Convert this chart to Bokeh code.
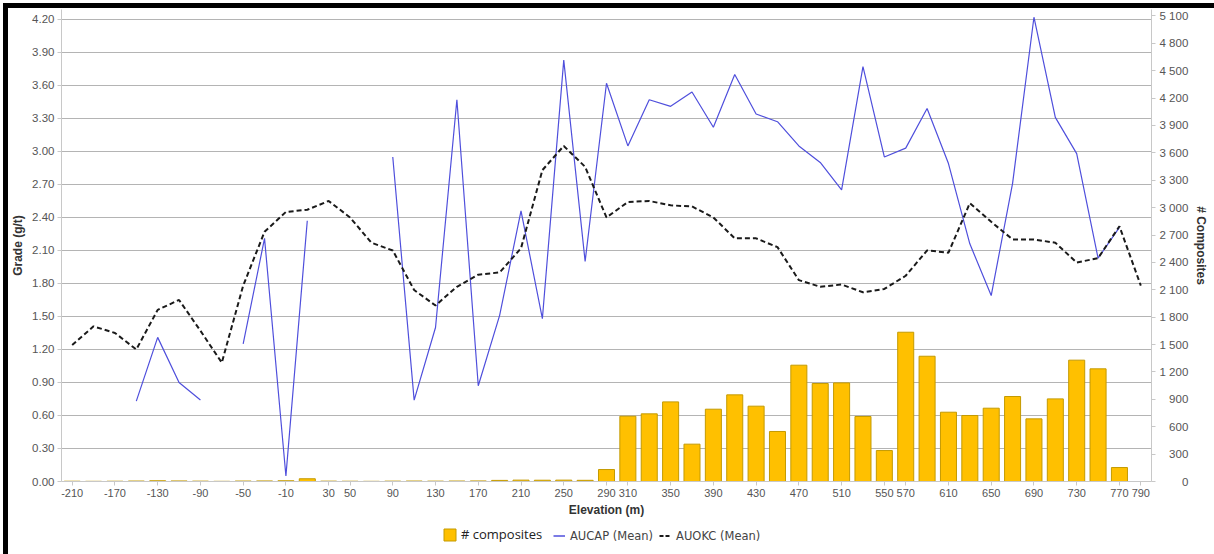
import numpy as np
from bokeh.plotting import figure
from bokeh.layouts import column
from bokeh.models import (Range1d, LinearAxis, FixedTicker, Legend, LegendItem,
                          ColumnDataSource, PrintfTickFormatter)
from bokeh.embed import file_html
from bokeh.resources import INLINE

nan = np.nan

elevation = [-210, -190, -170, -150, -130, -110, -90, -70, -50, -30, -10, 10, 30, 50, 70,
             90, 110, 130, 150, 170, 190, 210, 230, 250, 270, 290, 310, 330, 350, 370,
             390, 410, 430, 450, 470, 490, 510, 530, 550, 570, 590, 610, 630, 650, 670,
             690, 710, 730, 750, 770, 790]

composites = [3, 2, 3, 5, 8, 6, 4, 2, 5, 6, 8, 30, 4, 3, 2,
              4, 5, 4, 5, 6, 12, 15, 14, 15, 13, 131, 715, 741, 872, 409,
              792, 949, 825, 548, 1274, 1073, 1080, 712, 339, 1635, 1372, 759, 723, 803, 931,
              686, 905, 1329, 1234, 153, 0]

aucap_mean = [nan, nan, nan, 0.73, 1.31, 0.90, 0.74, nan, 1.25, 2.21, 0.05, 2.37, nan, nan, nan,
              2.95, 0.74, 1.40, 3.47, 0.87, 1.51, 2.46, 1.48, 3.83, 2.00, 3.62, 3.05, 3.47, 3.41, 3.54,
              3.22, 3.70, 3.34, 3.27, 3.05, 2.90, 2.65, 3.77, 2.95, 3.03, 3.39, 2.89, 2.16, 1.69, 2.71,
              4.22, 3.31, 2.98, 2.03, 2.31, nan]

auokc_mean = [1.24, 1.41, 1.35, 1.20, 1.56, 1.65, 1.37, 1.08, 1.78, 2.27, 2.45, 2.47, 2.55, 2.40, 2.17,
              2.10, 1.74, 1.60, 1.77, 1.88, 1.90, 2.12, 2.83, 3.05, 2.86, 2.40, 2.54, 2.55, 2.51, 2.50,
              2.40, 2.21, 2.21, 2.13, 1.83, 1.77, 1.79, 1.72, 1.75, 1.87, 2.10, 2.08, 2.53, 2.36, 2.20,
              2.20, 2.17, 1.99, 2.03, 2.32, 1.78]

x_tick_values = [-210, -170, -130, -90, -50, -10, 30, 50, 90, 130, 170, 210, 250, 290, 310,
                 350, 390, 430, 470, 510, 550, 570, 610, 650, 690, 730, 770, 790]
grade_ticks = [0.0, 0.3, 0.6, 0.9, 1.2, 1.5, 1.8, 2.1, 2.4, 2.7, 3.0, 3.3, 3.6, 3.9, 4.2]
count_ticks = [0, 300, 600, 900, 1200, 1500, 1800, 2100, 2400, 2700, 3000, 3300, 3600,
               3900, 4200, 4500, 4800, 5100]

BAR_FILL = "#FFC000"
BAR_LINE = "#C49A00"
CAP_COLOR = "#4F4FDC"
OKC_COLOR = "#1A1A1A"

src = ColumnDataSource(dict(elev=elevation, comp=composites, aucap=aucap_mean, auokc=auokc_mean))

p = figure(width=1206, height=518, output_backend="svg", toolbar_location=None,
           x_range=Range1d(-220, 800), y_range=Range1d(0, 4.29),
           min_border_left=53, min_border_right=63, min_border_top=1, min_border_bottom=45)
p.extra_y_ranges = {"comp": Range1d(0, 5170)}
p.outline_line_color = None
p.background_fill_color = "white"
p.border_fill_color = "white"

p.vbar(x="elev", top="comp", width=15, source=src, y_range_name="comp",
       fill_color=BAR_FILL, line_color=BAR_LINE, line_width=1)
p.line(x="elev", y="aucap", source=src, line_color=CAP_COLOR, line_width=1.2)
p.line(x="elev", y="auokc", source=src, line_color=OKC_COLOR, line_width=2, line_dash="5 3")

tick_font = "Liberation Sans"

# x axis
xa = p.xaxis[0]
xa.ticker = FixedTicker(ticks=x_tick_values)
xa.major_label_overrides = {v: str(v) for v in x_tick_values}
xa.axis_label = "Elevation (m)"
xa.axis_label_text_font = tick_font
xa.axis_label_text_font_style = "bold"
xa.axis_label_text_font_size = "12px"
xa.axis_label_text_color = "#333333"
xa.axis_label_standoff = 3
xa.major_label_text_font = tick_font
xa.major_label_text_font_size = "11px"
xa.major_label_text_color = "#555555"
xa.major_label_standoff = 3
xa.axis_line_color = "#C8C8C8"
xa.major_tick_line_color = "#C8C8C8"
xa.major_tick_in = 0
xa.major_tick_out = 4
xa.minor_tick_line_color = None

# left axis
ya = p.yaxis[0]
ya.ticker = FixedTicker(ticks=grade_ticks)
ya.formatter = PrintfTickFormatter(format="%.2f")
ya.axis_label = "Grade (g/t)"
ya.axis_label_text_font = tick_font
ya.axis_label_text_font_style = "bold"
ya.axis_label_text_font_size = "12px"
ya.axis_label_text_color = "#333333"
ya.axis_label_standoff = 4
ya.major_label_text_font = tick_font
ya.major_label_text_font_size = "11.5px"
ya.major_label_text_color = "#555555"
ya.major_label_standoff = 3
ya.axis_line_color = "#C8C8C8"
ya.major_tick_line_color = "#C8C8C8"
ya.major_tick_in = 0
ya.major_tick_out = 4
ya.minor_tick_line_color = None

# right axis
def fmt_count(v):
    s = f"{v:,}".replace(",", "\u00a0")
    if len(s) <= 3:
        s = "\u2007\u00a0" + "\u2007" * (3 - len(s)) + s
    return s

ra = LinearAxis(y_range_name="comp")
ra.ticker = FixedTicker(ticks=count_ticks)
ra.major_label_overrides = {v: fmt_count(v) for v in count_ticks}
ra.axis_label = "# Composites"
ra.axis_label_text_font = tick_font
ra.axis_label_text_font_style = "bold"
ra.axis_label_text_font_size = "12px"
ra.axis_label_text_color = "#333333"
ra.axis_label_standoff = 3
ra.major_label_text_font = tick_font
ra.major_label_text_font_size = "11.5px"
ra.major_label_text_color = "#555555"
ra.major_label_standoff = 4
ra.axis_line_color = "#C8C8C8"
ra.major_tick_line_color = "#C8C8C8"
ra.major_tick_in = 0
ra.major_tick_out = 4
ra.minor_tick_line_color = None
p.add_layout(ra, "right")

p.xgrid.grid_line_color = None
p.ygrid.grid_line_color = "#B4B4B4"
p.ygrid.grid_line_width = 1
p.ygrid.ticker = FixedTicker(ticks=grade_ticks)

# legend strip below the chart (its ranges keep the proxy glyphs out of view)
q = figure(width=1206, height=28, output_backend="svg", toolbar_location=None,
           x_range=Range1d(5000, 5001), y_range=Range1d(5000, 5001),
           min_border_left=0, min_border_right=0, min_border_top=0, min_border_bottom=0,
           x_axis_location=None, y_axis_location=None)
q.grid.grid_line_color = None
q.outline_line_color = None
q.border_fill_color = "white"
q.background_fill_color = "white"

lb = q.vbar(x="elev", top="comp", width=15, source=src, fill_color=BAR_FILL, line_color=BAR_LINE)
lc = q.line(x="elev", y="aucap", source=src, line_color=CAP_COLOR, line_width=1.5)
lo = q.line(x="elev", y="auokc", source=src, line_color=OKC_COLOR, line_width=2, line_dash="4 2")

leg1 = Legend(items=[LegendItem(label="# composites", renderers=[lb])],
              orientation="horizontal", location=(381, 11))
leg1.label_text_font = "Open Sans"
leg1.label_text_font_size = "13px"
leg1.label_text_color = "#222222"
leg1.glyph_width = 15
leg1.glyph_height = 15
leg1.label_standoff = 4
leg1.label_height = 15

leg2 = Legend(items=[LegendItem(label="AUCAP (Mean)", renderers=[lc]),
                     LegendItem(label="AUOKC (Mean)", renderers=[lo])],
              orientation="horizontal", location=(492, 11))
leg2.label_text_font = "DejaVu Sans"
leg2.label_text_font_size = "11.5px"
leg2.label_text_color = "#444444"
leg2.glyph_width = 12
leg2.glyph_height = 15
leg2.label_standoff = 5
leg2.spacing = 6
leg2.label_height = 15

for lg in (leg1, leg2):
    lg.border_line_color = None
    lg.background_fill_alpha = 0
    lg.padding = 0
    lg.margin = 0
    q.add_layout(lg)

layout = column(p, q, spacing=0,
                styles={"border-top": "5px solid black", "border-left": "5px solid black",
                        "margin-top": "3px", "margin-left": "3px"})

open("out.html", "w").write(file_html(layout, INLINE))
